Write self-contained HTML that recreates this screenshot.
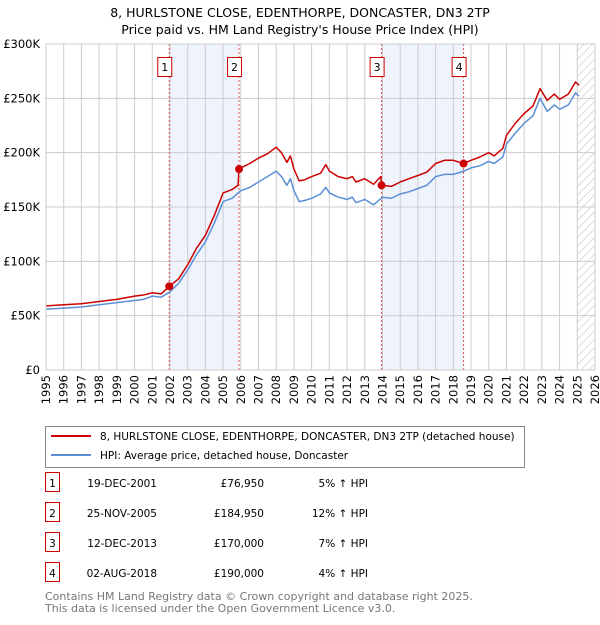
<!DOCTYPE html>
<html><head><meta charset="utf-8"><style>
body{margin:0;background:#fff;font-family:"Liberation Sans","DejaVu Sans",sans-serif;}
svg text{font-family:"DejaVu Sans","Liberation Sans",sans-serif;}
</style></head><body>
<svg id="c" width="600" height="620" xmlns="http://www.w3.org/2000/svg">
<text x="300" y="17" font-size="12.5" text-anchor="middle">8, HURLSTONE CLOSE, EDENTHORPE, DONCASTER, DN3 2TP</text>
<text x="300" y="34" font-size="12.5" text-anchor="middle">Price paid vs. HM Land Registry's House Price Index (HPI)</text>
<defs><pattern id="hatch" width="6" height="6" patternUnits="userSpaceOnUse" patternTransform="rotate(45)"><line x1="0" y1="0" x2="0" y2="6" stroke="#bbb" stroke-width="1"/></pattern></defs>
<g id="plot"></g>
<g>
<rect x="45.5" y="426.5" width="479" height="41" fill="#fff" stroke="#888"/>
<line x1="51" y1="436" x2="91" y2="436" stroke="#cc0000" stroke-width="2"/>
<text x="100" y="440" font-size="10.5">8, HURLSTONE CLOSE, EDENTHORPE, DONCASTER, DN3 2TP (detached house)</text>
<line x1="51" y1="455" x2="91" y2="455" stroke="#5b8fd6" stroke-width="2"/>
<text x="100" y="459" font-size="10.5">HPI: Average price, detached house, Doncaster</text>
</g>
<g id="table" font-size="10.5"></g>
<text x="45" y="600" font-size="11" fill="#777">Contains HM Land Registry data © Crown copyright and database right 2025.</text>
<text x="45" y="612" font-size="11" fill="#777">This data is licensed under the Open Government Licence v3.0.</text>
</svg>
<script>
const hpiYears=[1995,1996,1997,1998,1999,2000,2000.5,2001,2001.5,2002,2002.5,2003,2003.5,2004,2004.5,2005,2005.5,2006,2006.5,2007,2007.5,2008,2008.3,2008.6,2008.8,2009,2009.3,2009.6,2010,2010.5,2010.8,2011,2011.5,2012,2012.3,2012.5,2013,2013.5,2014,2014.5,2015,2015.5,2016,2016.5,2017,2017.5,2018,2018.6,2019,2019.5,2020,2020.3,2020.8,2021,2021.5,2022,2022.5,2022.9,2023.3,2023.7,2024,2024.5,2024.9,2025.1];
const hpiValues=[56,57,58,60,62,64,65,68,67,72,80,92,106,118,135,155,158,165,168,173,178,183,178,170,176,165,155,156,158,162,168,163,159,157,159,154,157,152,159,158,162,164,167,170,178,180,180,183,186,188,192,190,196,208,218,227,234,250,238,244,240,244,255,252];
const propYears=[1995,1996,1997,1998,1999,2000,2000.5,2001,2001.5,2001.96,2002.5,2003,2003.5,2004,2004.5,2005,2005.5,2005.85,2005.9,2006,2006.5,2007,2007.5,2008,2008.3,2008.6,2008.8,2009,2009.3,2009.6,2010,2010.5,2010.8,2011,2011.5,2012,2012.3,2012.5,2013,2013.5,2013.9,2013.95,2014.5,2015,2015.5,2016,2016.5,2017,2017.5,2018,2018.58,2019,2019.5,2020,2020.3,2020.8,2021,2021.5,2022,2022.5,2022.9,2023.3,2023.7,2024,2024.5,2024.9,2025.1];
const propValues=[59,60,61,63,65,68,69,71,70,77,84,97,112,124,142,163,166,170,185,186,190,195,199,205,200,191,197,185,174,175,178,181,189,183,178,176,178,173,176,171,178,170,169,173,176,179,182,190,193,193,190,193,196,200,197,204,216,227,236,243,259,248,254,249,254,265,262];
const saleYears=[2001.96,2005.9,2013.95,2018.58];
const salePrices=[76950,184950,170000,190000];
const saleDates=["19-DEC-2001","25-NOV-2005","12-DEC-2013","02-AUG-2018"];
const salePriceLabels=["£76,950","£184,950","£170,000","£190,000"];
const saleHpi=["5% ↑ HPI","12% ↑ HPI","7% ↑ HPI","4% ↑ HPI"];
const yTicks=[0,50,100,150,200,250,300];
const yTickLabels=["£0","£50K","£100K","£150K","£200K","£250K","£300K"];
const xTicks=[1995,1996,1997,1998,1999,2000,2001,2002,2003,2004,2005,2006,2007,2008,2009,2010,2011,2012,2013,2014,2015,2016,2017,2018,2019,2020,2021,2022,2023,2024,2025,2026];

const NS="http://www.w3.org/2000/svg";
const L=46,R=595,T=44,B=370;
const xs=y=>L+(y-1995)*(R-L)/31;
const ys=v=>B-v*(B-T)/300;
const g=document.getElementById('plot');
function el(tag,attrs,parent){const e=document.createElementNS(NS,tag);for(const k in attrs)e.setAttribute(k,attrs[k]);(parent||g).appendChild(e);return e;}
for(let i=0;i<4;i+=2){
 const r=el('rect',{x:xs(saleYears[i]),y:T,width:xs(saleYears[i+1])-xs(saleYears[i]),height:B-T,fill:'#eef3fc'});
 
 
}
const h=el('rect',{x:xs(2025),y:T,width:R-xs(2025),height:B-T,fill:'url(#hatch)'});


xTicks.forEach(t=>{
 const l=el('line',{x1:xs(t),x2:xs(t),y1:T,y2:B,stroke:'#ccc','stroke-width':1});
 
 
 const tx=el('text',{x:0,y:0,'font-size':11.5,'text-anchor':'end',transform:`translate(${xs(t)+4},${B+5}) rotate(-90)`});
 tx.textContent=t;
 
 
});
yTicks.forEach((t,i)=>{
 const l=el('line',{x1:L,x2:R,y1:ys(t),y2:ys(t),stroke:'#ccc','stroke-width':1});
 
 
 const tx=el('text',{x:L-6,y:ys(t)+4,'font-size':11.5,'text-anchor':'end'});
 tx.textContent=yTickLabels[i];
 
 
});
saleYears.forEach(s=>{
 const l=el('line',{x1:xs(s),x2:xs(s),y1:T,y2:B,stroke:'#e05050','stroke-width':1,'stroke-dasharray':'2,2'});
 
 
});
function path(xa,va,color,name){
 const d=xa.map((x,i)=>(i?'L':'M')+xs(x).toFixed(1)+','+ys(va[i]).toFixed(1)).join('');
 const p=el('path',{d:d,fill:'none',stroke:color,'stroke-width':1.5,'stroke-linejoin':'round'});
 
 
}
path(hpiYears,hpiValues,'#5b8fd6','hpi-line');
path(propYears,propValues,'#cc0000','property-price-line');
saleYears.forEach((s,i)=>{
 const c=el('circle',{cx:xs(s),cy:ys(salePrices[i]/1000),r:4,fill:'#cc0000'});
 
 
 const b=el('rect',{x:xs(s)-11.5,y:57.5,width:14,height:19,fill:'#fff',stroke:'#cc0000'});
 
 
 const t=el('text',{x:xs(s)-4.5,y:71,'font-size':11,'text-anchor':'middle'});
 t.textContent=i+1;
 
 
});
const fr=el('rect',{x:L,y:T,width:R-L,height:B-T,fill:'none',stroke:'#ccc'});


const tb=document.getElementById('table');
saleDates.forEach((d,i)=>{
 const y=483+i*30;
 const b=el('rect',{x:45.5,y:y-10.5,width:14,height:19,fill:'#fff',stroke:'#cc0000'},tb);
 
 
 const n=el('text',{x:52.5,y:y+4,'text-anchor':'middle'},tb);n.textContent=i+1;
 
 
 const a=el('text',{x:157,y:y+4,'text-anchor':'end'},tb);a.textContent=d;
 
 
 const p=el('text',{x:264,y:y+4,'text-anchor':'end'},tb);p.textContent=salePriceLabels[i];
 
 
 const q=el('text',{x:368,y:y+4,'text-anchor':'end'},tb);q.textContent=saleHpi[i];
 
 
});
</script>
</body></html>
